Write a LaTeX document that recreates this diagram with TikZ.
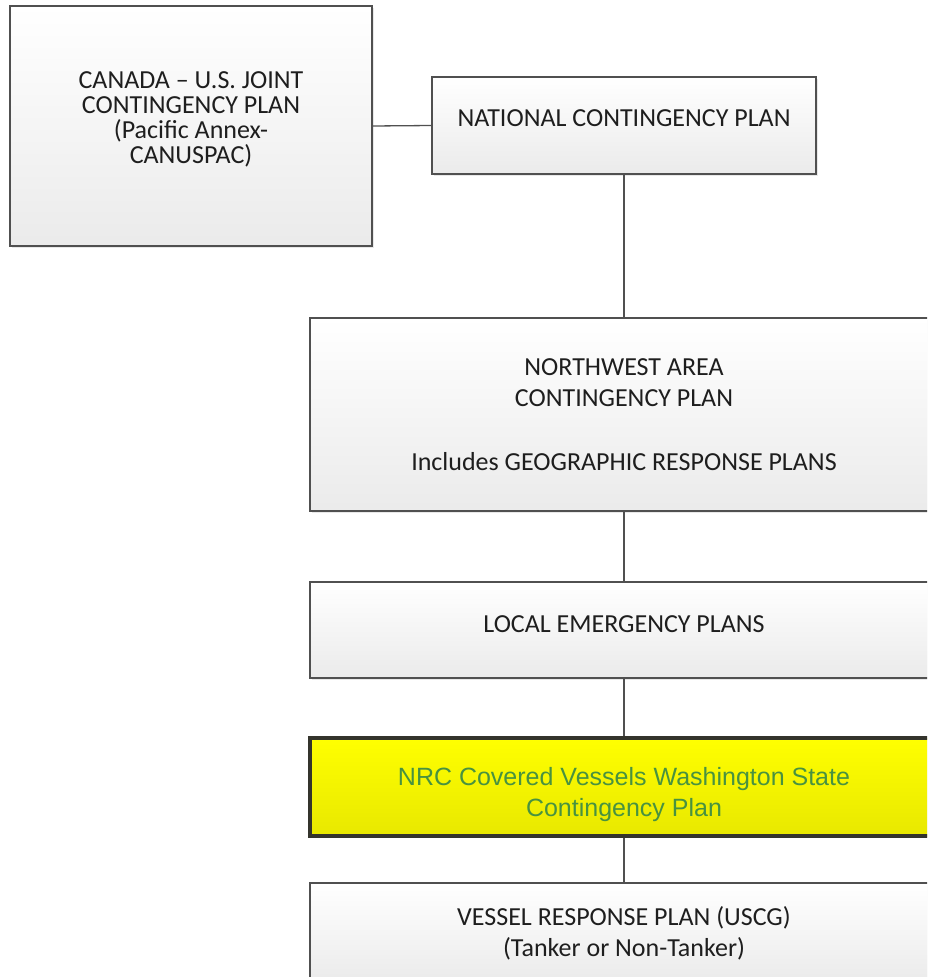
\documentclass[tikz,border=0pt]{standalone}
\usepackage{fontspec}
\setmainfont{Carlito}
\newfontfamily\arialfont{Liberation Sans}
\usetikzlibrary{positioning,shadows}
\definecolor{boxline}{RGB}{80,80,80}
\definecolor{boxtext}{RGB}{30,30,30}
\definecolor{hilite}{RGB}{255,255,0}
\definecolor{hilitedark}{RGB}{232,232,0}
\definecolor{hiliteline}{RGB}{52,52,44}
\definecolor{hilitetext}{RGB}{72,146,64}

\begin{document}
\begin{tikzpicture}[x=1pt, y=-1pt,
    planbox/.style={draw=boxline, line width=1.5pt, top color=white, bottom color=black!8,
      text=boxtext, align=center, inner sep=0pt,
      font=\fontsize{26}{31}\selectfont,
      drop shadow={opacity=0.18, shadow xshift=2pt, shadow yshift=-2pt}},
    statebox/.style={planbox, draw=hiliteline, line width=4pt, top color=hilite,
      bottom color=hilitedark, text=hilitetext,
      font=\arialfont\fontsize{25}{31}\selectfont},
    link/.style={draw=boxline, line width=1.3pt}]
  \useasboundingbox (0,0) rectangle (927,977);
  \clip (0,0) rectangle (927,977);

  % text depth / height only move the words off the box centre
  \node[planbox, minimum width=362pt, minimum height=240pt, text depth=17pt,
        font=\fontsize{26}{25}\selectfont] (canada) at (191,126)
    {CANADA – U.S. JOINT\\CONTINGENCY PLAN\\(Pacific Annex-\\CANUSPAC)};
  \node[planbox, minimum width=384pt, minimum height=97pt, text depth=14pt] (national) at (624,125.5)
    {NATIONAL CONTINGENCY PLAN};
  \node[planbox, minimum width=628pt, minimum height=193pt] (nwacp) at (624,414.5)
    {NORTHWEST AREA\\CONTINGENCY PLAN\\[33pt]Includes GEOGRAPHIC RESPONSE PLANS};
  \node[planbox, minimum width=628pt, minimum height=96pt, text depth=12pt] (local) at (624,630)
    {LOCAL EMERGENCY PLANS};
  \node[statebox, minimum width=628pt, minimum height=98pt, text height=65pt] (state) at (624,787)
    {NRC Covered Vessels Washington State\\Contingency Plan};
  \node[planbox, minimum width=628pt, minimum height=100pt] (vessel) at (624,933)
    {VESSEL RESPONSE PLAN (USCG)\\(Tanker or Non-Tanker)};

  \draw[link] (canada.east) -- (national.west);
  \draw[link] (national.south) -- (nwacp.north);
  \draw[link] (nwacp.south) -- (local.north);
  \draw[link] (local.south) -- (state.north);
  \draw[link] (state.south) -- (vessel.north);
\end{tikzpicture}
\end{document}
